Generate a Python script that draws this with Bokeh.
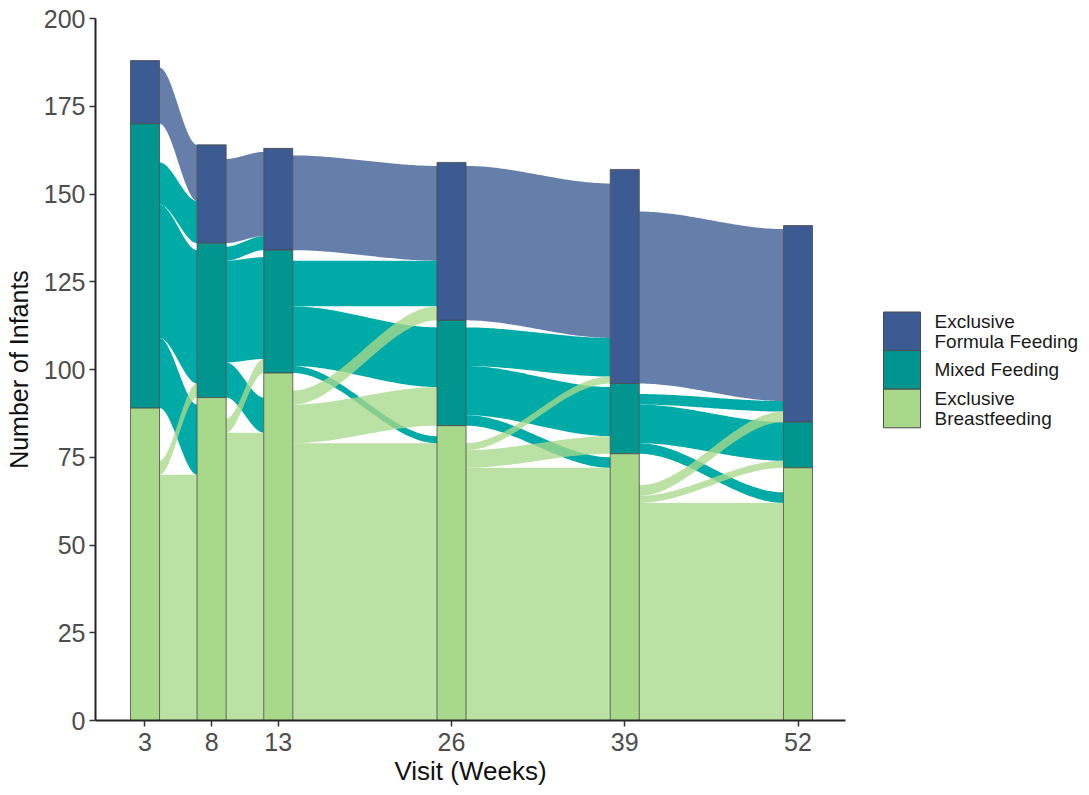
import numpy as np
from bokeh.plotting import figure
from bokeh.models import FixedTicker, Range1d, ColumnDataSource
from bokeh.layouts import row
from bokeh.embed import file_html
from bokeh.resources import INLINE

# ---- data -------------------------------------------------------------
visits = [3, 8, 13, 26, 39, 52]
status_names = ["Exclusive Formula Feeding", "Mixed Feeding", "Exclusive Breastfeeding"]
legend_lines = [["Exclusive", "Formula Feeding"], ["Mixed Feeding"], ["Exclusive", "Breastfeeding"]]
y_ticks = [0, 25, 50, 75, 100, 125, 150, 175, 200]

formula_counts = [18, 28, 29, 45, 61, 56]
mixed_counts = [81, 44, 35, 30, 20, 13]
breast_counts = [89, 92, 99, 84, 76, 72]

# transitions between consecutive visits
# rows: status at the earlier visit  (missing, formula, mixed, breast)
# cols: status at the later visit    (missing, formula, mixed, breast)
transitions_3_8 = [[0, 0, 2, 2],
                   [2, 16, 0, 0],
                   [11, 12, 38, 20],
                   [15, 0, 4, 70]]
transitions_8_13 = [[0, 1, 2, 7],
                    [4, 24, 0, 0],
                    [1, 4, 29, 10],
                    [6, 0, 4, 82]]
transitions_13_26 = [[0, 1, 2, 3],
                     [2, 27, 0, 0],
                     [3, 13, 17, 2],
                     [5, 4, 11, 79]]
transitions_26_39 = [[0, 4, 1, 1],
                     [1, 44, 0, 0],
                     [2, 11, 14, 3],
                     [5, 2, 5, 72]]
transitions_39_52 = [[0, 1, 0, 7],
                     [12, 49, 0, 0],
                     [3, 3, 11, 3],
                     [9, 3, 2, 62]]
transitions = [transitions_3_8, transitions_8_13, transitions_13_26,
               transitions_26_39, transitions_39_52]

# ---- styling ----------------------------------------------------------
stratum_colors = ["#3B5B92", "#00968F", "#A8D88A"]
flow_colors = ["#3B5B92", "#00ABA7", "#A8D88A"]
flow_alphas = [0.78, 1.0, 0.78]
bar_width = 2.18
FONT = "Liberation Sans"

FRAME_L, FRAME_T, FRAME_W, FRAME_H = 95, 18, 750, 702
PAGE_W = 1089


def stratum_bounds(i):
    """(top, bottom) of each stratum at visit i, formula on top, breast at bottom."""
    bf, mf, ff = breast_counts[i], mixed_counts[i], formula_counts[i]
    return [(bf + mf + ff, bf + mf), (bf + mf, bf), (bf, 0)]


def smooth(t):
    return 3 * t ** 2 - 2 * t ** 3


p = figure(frame_width=FRAME_W, frame_height=FRAME_H, output_backend="svg",
           toolbar_location=None,
           x_range=Range1d(-0.714, 55.563), y_range=Range1d(0, 200),
           min_border_left=FRAME_L, min_border_right=35, min_border_top=FRAME_T,
           min_border_bottom=75)

# ---- flows ------------------------------------------------------------
t = np.linspace(0, 1, 60)
e = smooth(t)
flow_xs = [[], [], []]
flow_ys = [[], [], []]
for i, T in enumerate(transitions):
    left = stratum_bounds(i)
    right = stratum_bounds(i + 1)
    # outgoing side: segments stacked by destination
    out_seg = {}
    for s in range(1, 4):
        cur = left[s - 1][0]
        for d in range(4):
            n = T[s][d]
            out_seg[(s, d)] = (cur, cur - n)
            cur -= n
    # incoming side: segments stacked by origin
    in_seg = {}
    for d in range(1, 4):
        cur = right[d - 1][0]
        for s in range(4):
            n = T[s][d]
            in_seg[(s, d)] = (cur, cur - n)
            cur -= n
    x0 = visits[i] + bar_width / 2
    x1 = visits[i + 1] - bar_width / 2
    xs = x0 + (x1 - x0) * t
    for s in range(1, 4):
        for d in range(1, 4):
            if T[s][d] <= 0:
                continue
            lt, lb = out_seg[(s, d)]
            rt, rb = in_seg[(s, d)]
            top = lt + (rt - lt) * e
            bot = lb + (rb - lb) * e
            flow_xs[s - 1].append(np.concatenate([xs, xs[::-1]]).tolist())
            flow_ys[s - 1].append(np.concatenate([top, bot[::-1]]).tolist())

for k in range(3):
    src = ColumnDataSource(dict(xs=flow_xs[k], ys=flow_ys[k]))
    p.patches("xs", "ys", source=src, fill_color=flow_colors[k],
              fill_alpha=flow_alphas[k], line_color=None)

# ---- strata -----------------------------------------------------------
for k in range(3):
    tops = [stratum_bounds(i)[k][0] for i in range(len(visits))]
    bottoms = [stratum_bounds(i)[k][1] for i in range(len(visits))]
    src = ColumnDataSource(dict(x=visits, top=tops, bottom=bottoms))
    p.vbar(x="x", top="top", bottom="bottom", width=bar_width, source=src,
           fill_color=stratum_colors[k], line_color="#4A4A4A", line_width=1,
           line_alpha=0.8)

# ---- axes -------------------------------------------------------------
p.outline_line_color = None
p.grid.visible = False
p.xaxis.ticker = FixedTicker(ticks=visits)
p.yaxis.ticker = FixedTicker(ticks=y_ticks)
for ax in (p.xaxis[0], p.yaxis[0]):
    ax.axis_line_color = "#222222"
    ax.axis_line_width = 2
    ax.major_tick_line_color = "#333333"
    ax.major_tick_line_width = 1.5
    ax.major_tick_out = 6
    ax.major_tick_in = 0
    ax.minor_tick_line_color = None
    ax.major_label_text_font = FONT
    ax.major_label_text_font_size = "25px"
    ax.major_label_text_color = "#4D4D4D"
    ax.axis_label_text_font = FONT
    ax.axis_label_text_font_style = "normal"
    ax.axis_label_text_color = "#111111"
p.xaxis.axis_label = "Visit (Weeks)"
p.xaxis.axis_label_text_font_size = "26px"
p.xaxis.major_label_standoff = 6
p.xaxis.axis_label_standoff = 2
p.yaxis.axis_label = "Number of Infants"
p.yaxis.axis_label_text_font_size = "25px"
p.yaxis.major_label_standoff = 4
p.yaxis.axis_label_standoff = 8

# ---- legend panel (data units = page pixels) --------------------------
leg_w = PAGE_W - (FRAME_L + FRAME_W + 35)
leg_x0 = FRAME_L + FRAME_W + 35
leg = figure(frame_width=leg_w, frame_height=FRAME_H, output_backend="svg",
             toolbar_location=None,
             x_range=Range1d(leg_x0, leg_x0 + leg_w),
             y_range=Range1d(FRAME_T + FRAME_H, FRAME_T),
             x_axis_type=None, y_axis_type=None,
             min_border_left=0, min_border_right=0, min_border_top=FRAME_T,
             min_border_bottom=75)
leg.outline_line_color = None
leg.grid.visible = False
key_top = 311.5
key_h = 38.6
key_left, key_right = 883, 920
key_tops = [key_top + k * key_h for k in range(3)]
leg.quad(left=key_left, right=key_right, top=key_tops,
         bottom=[y + key_h for y in key_tops], fill_color=stratum_colors,
         line_color="#4A4A4A", line_width=1)
line_gap = 20
tx, ty, texts = [], [], []
for k, lines in enumerate(legend_lines):
    centre = key_tops[k] + key_h / 2
    n = len(lines)
    for j, ln in enumerate(lines):
        texts.append(ln)
        ty.append(centre + (j - (n - 1) / 2) * line_gap)
        tx.append(934)
leg.text(x=tx, y=ty, text=texts, text_font_size="19px", text_baseline="middle",
         text_align="left", text_color="#1A1A1A",
         text_font={"value": FONT})

layout = row(p, leg)
open("out.html", "w").write(file_html(layout, INLINE))
